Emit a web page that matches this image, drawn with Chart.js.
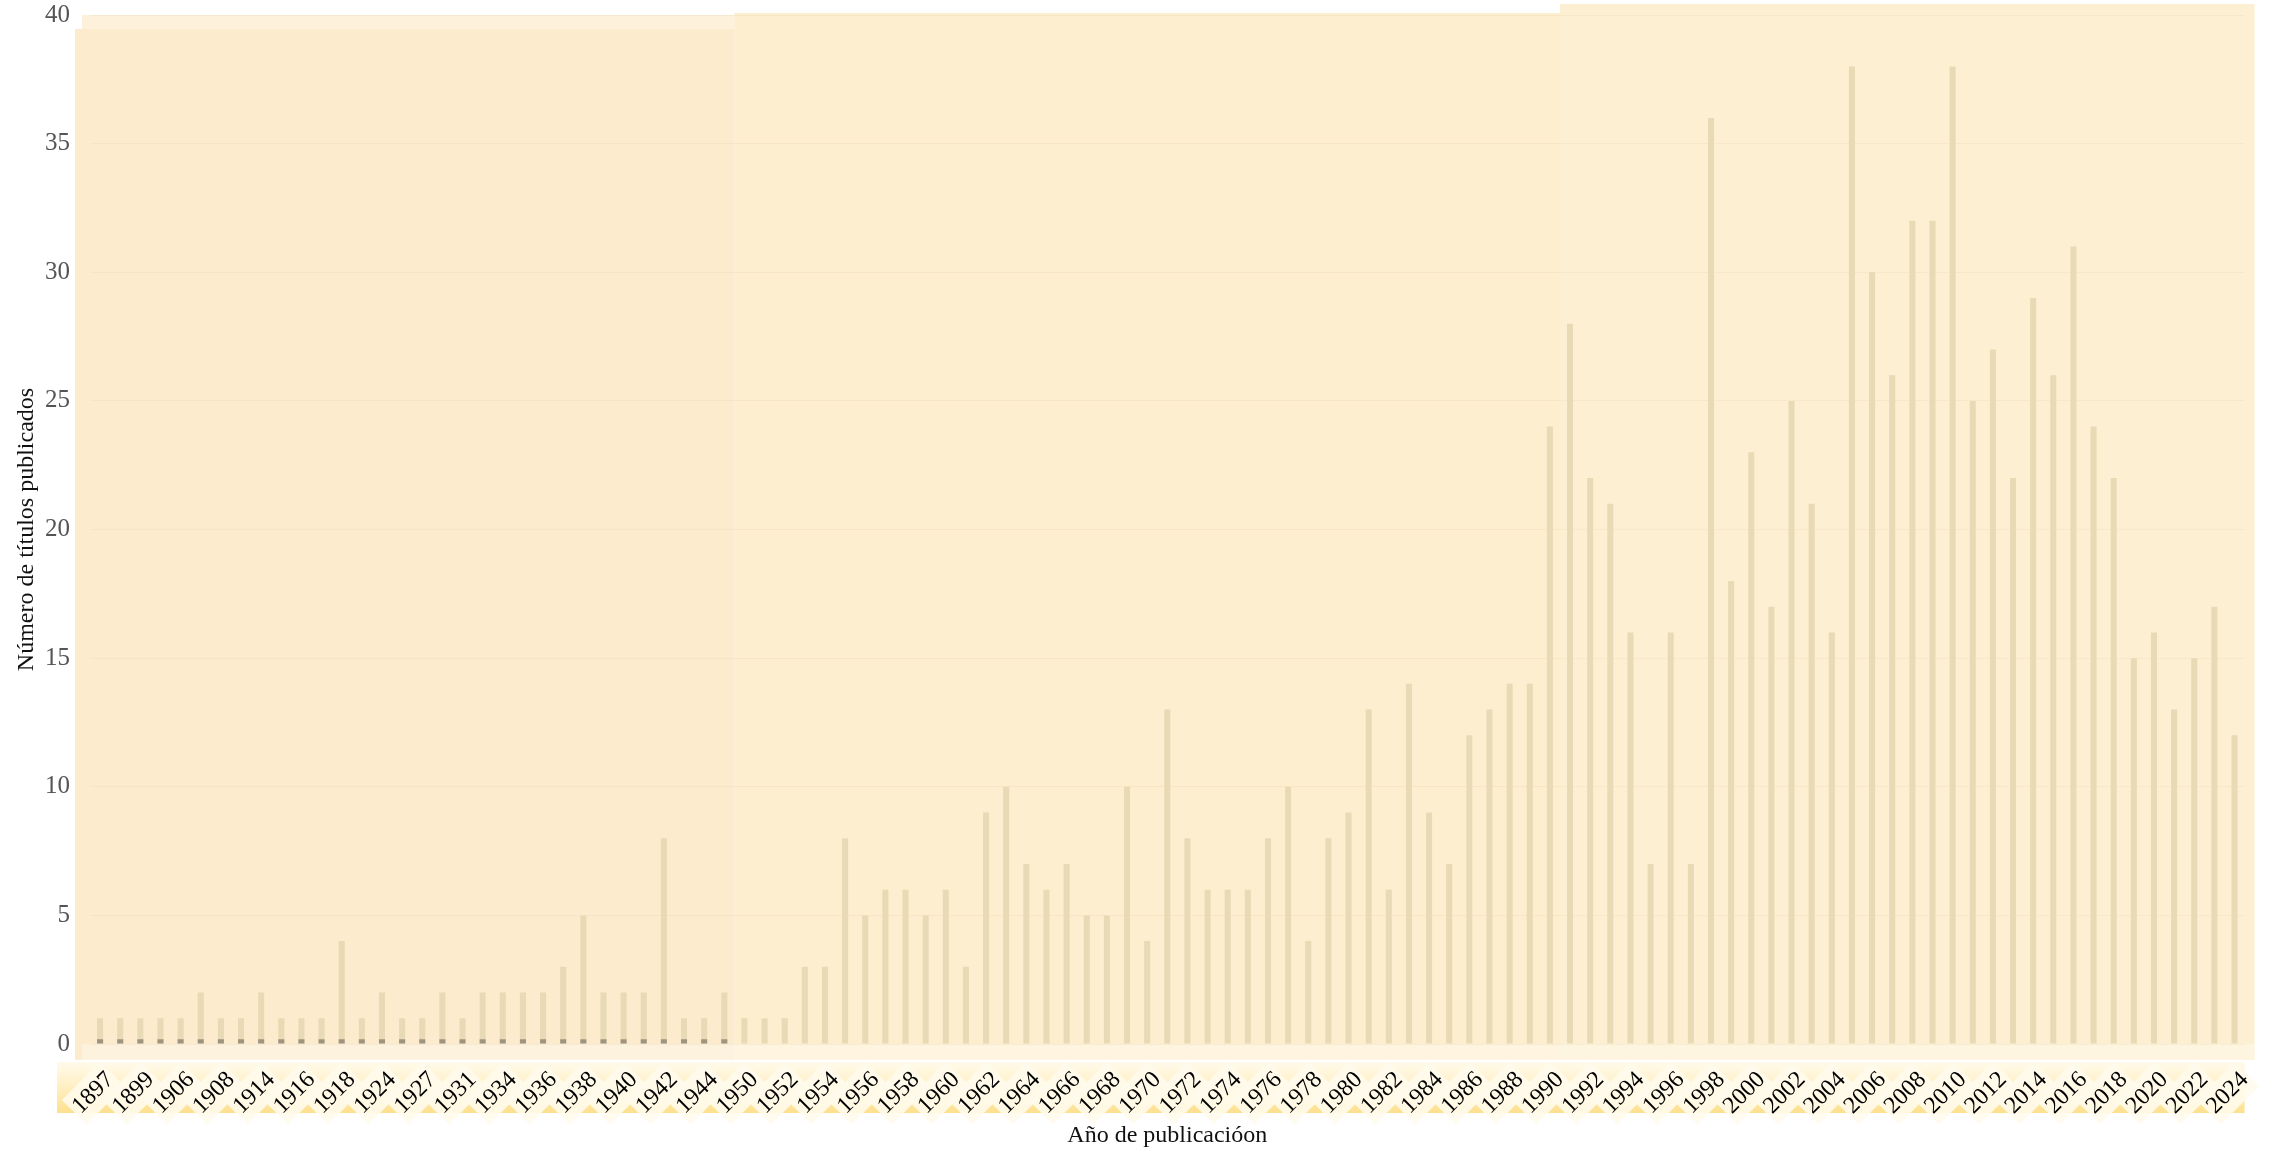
<!DOCTYPE html>
<html>
<head>
<meta charset="utf-8">
<title>Títulos publicados por año</title>
<script src="https://cdn.jsdelivr.net/npm/chart.js@4.4.1/dist/chart.umd.min.js"></script>
<style>
  html, body { margin: 0; padding: 0; background: #ffffff; }
  #wrap { width: 2277px; height: 1153px; position: relative; }
</style>
</head>
<body>
<div id="wrap"><canvas id="yearsChart"></canvas></div>
<script>
// años con publicaciones (categorías del eje x)
const years = [
  '1897', '1898', '1899', '1905', '1906', '1907', '1908', '1912', '1914', '1915',
  '1916', '1917', '1918', '1922', '1924', '1925', '1927', '1929', '1931', '1933',
  '1934', '1935', '1936', '1937', '1938', '1939', '1940', '1941', '1942', '1943',
  '1944', '1947',
  '1950', '1951', '1952', '1953', '1954', '1955', '1956', '1957', '1958', '1959',
  '1960', '1961', '1962', '1963', '1964', '1965', '1966', '1967', '1968', '1969',
  '1970', '1971', '1972', '1973', '1974', '1975', '1976', '1977', '1978', '1979',
  '1980', '1981', '1982', '1983', '1984', '1985', '1986', '1987', '1988', '1989',
  '1990', '1991', '1992', '1993', '1994', '1995', '1996', '1997', '1998', '1999',
  '2000', '2001', '2002', '2003', '2004', '2005', '2006', '2007', '2008', '2009',
  '2010', '2011', '2012', '2013', '2014', '2015', '2016', '2017', '2018', '2019',
  '2020', '2021', '2022', '2023', '2024'
];

// número de títulos por año
const titleCounts = [
  1, 1, 1, 1, 1, 2, 1, 1, 2, 1,
  1, 1, 4, 1, 2, 1, 1, 2, 1, 2,
  2, 2, 2, 3, 5, 2, 2, 2, 8, 1,
  1, 2,
  1, 1, 1, 3, 3, 8, 5, 6, 6, 5,
  6, 3, 9, 10, 7, 6, 7, 5, 5, 10,
  4, 13, 8, 6, 6, 6, 8, 10, 4, 8,
  9, 13, 6, 14, 9, 7, 12, 13, 14, 14,
  24, 28, 22, 21, 16, 7, 16, 7, 36, 18,
  23, 17, 25, 21, 16, 38, 30, 26, 32, 32,
  38, 25, 27, 22, 29, 26, 31, 24, 22, 15,
  16, 13, 15, 17, 12
];

const yMax = 40;
const yStep = 5;

const serif = "'Liberation Serif', 'DejaVu Serif', serif";

// fondos crema por periodo + franja amarilla bajo las etiquetas
const panels = {
  id: 'panels',
  beforeDraw(chart) {
    const { ctx, chartArea: a, scales: { x } } = chart;
    const i50 = years.indexOf('1950');
    const i91 = years.indexOf('1991');
    const cut1 = (x.getPixelForValue(i50 - 1) + x.getPixelForValue(i50)) / 2;
    const cut2 = (x.getPixelForValue(i91 - 1) + x.getPixelForValue(i91)) / 2;
    ctx.save();

    ctx.fillStyle = '#fdf1dc';
    ctx.fillRect(a.left - 8, a.top, cut1 - a.left + 8, a.bottom - a.top + 16);
    ctx.fillStyle = '#fcebcd';
    ctx.fillRect(a.left - 15, a.top + 14, cut1 - a.left + 15, a.bottom - a.top + 2);

    ctx.fillStyle = '#fdeecf';
    ctx.fillRect(cut1, a.top - 2, cut2 - cut1, a.bottom - a.top + 18);

    ctx.fillStyle = '#fdf0d2';
    ctx.fillRect(cut2, a.top - 11, a.right + 10 - cut2, a.bottom - a.top + 27);

    ctx.fillStyle = 'rgba(255,255,255,0.35)';
    ctx.fillRect(a.left - 8, a.bottom, a.right - a.left + 18, 16);

    const g = ctx.createLinearGradient(0, a.bottom + 18, 0, a.bottom + 69);
    g.addColorStop(0, '#fffaeb');
    g.addColorStop(0.45, '#fff0c6');
    g.addColorStop(1, '#fde08e');
    ctx.fillStyle = g;
    ctx.fillRect(a.left - 33, a.bottom + 18, a.right - a.left + 33, 51);
    ctx.restore();
  }
};

const ctx = document.getElementById('yearsChart').getContext('2d');
new Chart(ctx, {
  type: 'bar',
  data: {
    labels: years,
    datasets: [
      {
        label: 'Marcas',
        data: titleCounts.map((v, i) => (i < years.indexOf('1950') ? 0.18 : null)),
        backgroundColor: '#9f9480',
        grouped: false,
        categoryPercentage: 1,
        barPercentage: 0.3,
        order: 0
      },
      {
        label: 'Títulos publicados',
        data: titleCounts,
        backgroundColor: '#e8dab4',
        grouped: false,
        categoryPercentage: 1,
        barPercentage: 0.3,
        order: 1
      }
    ]
  },
  options: {
    responsive: true,
    maintainAspectRatio: false,
    animation: false,
    layout: { padding: { top: 15, right: 24, left: 0, bottom: 0 } },
    plugins: {
      legend: { display: false },
      tooltip: { enabled: false }
    },
    scales: {
      x: {
        afterFit: (scale) => {
          scale.height = 109;
          scale.paddingTop = 0;
        },
        grid: { display: false, drawTicks: false },
        border: { display: false },
        ticks: {
          autoSkip: false,
          minRotation: 45,
          maxRotation: 45,
          padding: 22,
          color: '#000000',
          font: { family: serif, size: 24 },
          showLabelBackdrop: (c) => c.index % 2 === 0,
          backdropColor: 'rgba(255,251,236,0.9)',
          backdropPadding: 3,
          callback: function (value, index) {
            return index % 2 === 0 ? this.getLabelForValue(value) : '';
          }
        },
        title: {
          display: true,
          text: 'Año de publicacióon',
          color: '#111111',
          font: { family: serif, size: 24 },
          padding: { top: 4, bottom: 3 }
        }
      },
      y: {
        min: 0,
        max: yMax,
        afterFit: (scale) => {
          scale.width = 90;
          scale.paddingTop = 0;
          scale.paddingBottom = 0;
        },
        grid: { color: 'rgba(225,205,170,0.22)', drawTicks: false },
        border: { display: false },
        ticks: {
          stepSize: yStep,
          padding: 20,
          color: '#555555',
          font: { family: serif, size: 25 }
        },
        title: {
          display: true,
          text: 'Número de títulos publicados',
          color: '#111111',
          font: { family: serif, size: 24 },
          padding: { top: 12, bottom: 4 }
        }
      }
    }
  },
  plugins: [panels]
});
</script>
</body>
</html>
